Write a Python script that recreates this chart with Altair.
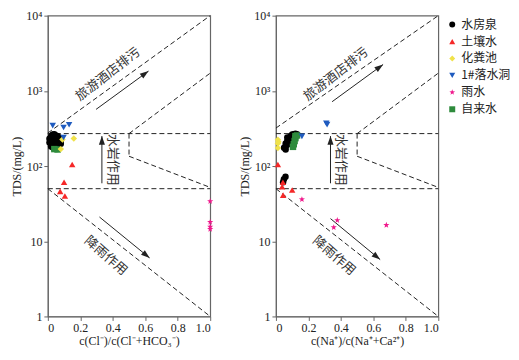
import altair as alt
import pandas as pd

# ---------------- legend / series ----------------
series_names = ["水房泉", "土壤水", "化粪池", "1#落水洞", "雨水", "自来水"]
series_colors = ["#000000", "#f52828", "#f0e24a", "#1f5bbf", "#f0188c", "#2e8b3c"]
STAR = ("M0,-1L0.235,-0.324L0.951,-0.309L0.38,0.124L0.588,0.809L0,0.4"
        "L-0.588,0.809L-0.38,0.124L-0.951,-0.309L-0.235,-0.324Z")
series_shapes = ["circle", "triangle-up", "diamond", "triangle-down", STAR, "square"]
draw_order = ["水房泉", "自来水", "土壤水", "化粪池", "1#落水洞", "雨水"]

# ---------------- left panel: c(Cl-)/c(Cl-+HCO3-) ----------------
L_spring_x = [0.01, 0.02, 0.03, 0.04, 0.05, 0.06, 0.07, 0.08, 0.02, 0.03, 0.04, 0.05,
              0.06, 0.07, 0.03, 0.04, 0.05, 0.06, 0.02, 0.08, 0.01, 0.04]
L_spring_y = [230, 250, 262, 265, 255, 250, 240, 220, 200, 215, 195, 185,
              205, 215, 178, 170, 188, 175, 182, 198, 205, 235]
L_tap_x = [0.04, 0.06]
L_tap_y = [168, 166]
L_soil_x = [0.15, 0.10, 0.076, 0.105]
L_soil_y = [105, 61, 46, 40]
L_septic_x = [0.16, 0.09, 0.08]
L_septic_y = [232, 225, 168]
L_sink_x = [0.03, 0.097, 0.131, 0.097]
L_sink_y = [345, 326, 354, 240]
L_rain_x = [1.0, 1.0, 1.0, 1.0]
L_rain_y = [34, 18, 15.6, 14.5]

# ---------------- right panel: c(Na+)/c(Na++Ca2+) ----------------
R_spring_x = [0.05, 0.06, 0.06, 0.07, 0.07, 0.08, 0.08, 0.09, 0.09, 0.10, 0.10, 0.11,
              0.12, 0.13, 0.06, 0.07, 0.11, 0.049, 0.059, 0.044]
R_spring_y = [175, 182, 200, 192, 215, 210, 235, 225, 250, 245, 262, 265,
              268, 265, 166, 240, 250, 67, 72, 61]
R_tap_x = [0.12, 0.12, 0.115, 0.11, 0.105, 0.13]
R_tap_y = [250, 235, 215, 195, 180, 255]
R_soil_x = [0.012, 0.043, 0.10, 0.044, 0.038]
R_soil_y = [105, 61, 48, 41, 53]
R_septic_x = [0.012, 0.012, 0.012, 0.015]
R_septic_y = [224, 200, 174, 210]
R_sink_x = [0.31, 0.315, 0.16]
R_sink_y = [371, 355, 248]
R_rain_x = [0.16, 0.378, 0.356, 0.68]
R_rain_y = [36, 19, 15.3, 16.4]

# ---------------- guide lines (segments) ----------------
seg_id = [1, 1, 2, 2, 3, 3, 4, 4, 5, 5, 6, 6, 7, 7]
seg_x = [0, 1, 0, 1, 0.5, 1, 0.5, 0.5, 0.5, 1, 0, 1, 0, 1]
L_seg_y = [275, 10000, 270, 270, 270, 1720, 270, 135, 135, 52, 50, 50, 50, 1]
R_seg_y = [320, 10000, 270, 270, 270, 1720, 270, 135, 135, 52, 50, 50, 50, 1]

# ---------------- arrows ----------------
arrow_id = [1, 1, 2, 2, 3, 3]
L_arrow_x = [0.297, 0.62, 0.333, 0.333, 0.318, 0.627]
L_arrow_y = [567, 1830, 59, 250, 21, 6.0]
R_arrow_x = [0.346, 0.66, 0.336, 0.336, 0.336, 0.642]
R_arrow_y = [717, 2240, 59, 250, 20, 5.7]
head_angle = [54, 0, 129]

# ---------------- annotation text ----------------
note_text = ["旅游酒店排污", "水岩作用", "降雨作用"]
note_x = [0.37, 0.40, 0.358]
note_y = [1660, 121, 6.4]
note_angle = [322, 90, 41]

x_titles = ["c(Cl⁻)/c(Cl⁻+HCO₃⁻)", "c(Na⁺)/c(Na⁺+Ca²⁺)"]

SERIF = "Liberation Serif"
CJK = "Noto Sans CJK SC"
ARROW_HEAD = "M0,0L-0.35,1L0.35,1Z"


def points_df(groups):
    rows = []
    for name in draw_order:
        xs, ys = groups[name]
        for a, b in zip(xs, ys):
            rows.append({"series": name, "x": a, "y": b})
    return pd.DataFrame(rows)


def panel(pts, seg_y, ax, ay, xtitle):
    xenc = alt.X("x:Q", scale=alt.Scale(domain=[0, 1], nice=False),
                 axis=alt.Axis(values=[0, 0.2, 0.4, 0.6, 0.8, 1.0],
                               labelExpr="datum.value == 0 ? '0' : format(datum.value, '.1f')",
                               title=xtitle))
    yenc = alt.Y("y:Q", scale=alt.Scale(type="log", domain=[1, 10000], nice=False),
                 axis=alt.Axis(values=[1, 10, 100, 1000, 10000],
                               labelExpr="datum.value == 1 ? '1' : datum.value == 10 ? '10' : datum.value == 100 ? '10²' : datum.value == 1000 ? '10³' : '10⁴'",
                               title="TDS/(mg/L)"))
    segs = pd.DataFrame({"seg": seg_id, "x": seg_x, "y": seg_y})
    lines = alt.Chart(segs).mark_line(color="#222", strokeWidth=1, strokeDash=[5, 3]).encode(
        x=xenc, y=yenc, detail="seg:N")
    arr = pd.DataFrame({"a": arrow_id, "x": ax, "y": ay})
    shafts = alt.Chart(arr).mark_line(color="#222", strokeWidth=1).encode(
        x=xenc, y=yenc, detail="a:N")
    heads_df = pd.DataFrame({"x": ax[1::2], "y": ay[1::2], "ang": head_angle})
    heads = alt.Chart(heads_df).mark_point(
        shape=ARROW_HEAD, filled=True, color="#222", size=300, opacity=1
    ).encode(x=xenc, y=yenc, angle=alt.Angle("ang:Q", scale=None))
    notes_df = pd.DataFrame({"t": note_text, "x": note_x, "y": note_y, "ang": note_angle})
    notes = alt.Chart(notes_df).mark_text(font=CJK, fontSize=13, color="#333",
                                          align="center", baseline="middle").encode(
        x=xenc, y=yenc, text="t:N", angle=alt.Angle("ang:Q", scale=None))
    pts_layer = alt.Chart(pts).mark_point(filled=True, size=42, opacity=1).encode(
        x=xenc, y=yenc,
        color=alt.Color("series:N", scale=alt.Scale(domain=series_names, range=series_colors),
                        legend=alt.Legend(title=" ")),
        shape=alt.Shape("series:N", scale=alt.Scale(domain=series_names, range=series_shapes),
                        legend=alt.Legend(title=" ")),
    )
    return alt.layer(lines, shafts, heads, notes, pts_layer).properties(width=163, height=302)


left_pts = points_df({"水房泉": (L_spring_x, L_spring_y), "自来水": (L_tap_x, L_tap_y),
                      "土壤水": (L_soil_x, L_soil_y), "化粪池": (L_septic_x, L_septic_y),
                      "1#落水洞": (L_sink_x, L_sink_y), "雨水": (L_rain_x, L_rain_y)})
right_pts = points_df({"水房泉": (R_spring_x, R_spring_y), "自来水": (R_tap_x, R_tap_y),
                       "土壤水": (R_soil_x, R_soil_y), "化粪池": (R_septic_x, R_septic_y),
                       "1#落水洞": (R_sink_x, R_sink_y), "雨水": (R_rain_x, R_rain_y)})

chart = alt.hconcat(
    panel(left_pts, L_seg_y, L_arrow_x, L_arrow_y, x_titles[0]),
    panel(right_pts, R_seg_y, R_arrow_x, R_arrow_y, x_titles[1]),
    spacing=24,
).properties(
    padding={"left": 2, "top": 0, "right": 0, "bottom": 0}
).configure_view(
    stroke="#666", strokeWidth=1.2
).configure_axis(
    labelFont=SERIF, titleFont=SERIF, labelFontSize=12, titleFontSize=12,
    titleFontWeight="normal", labelColor="#222", titleColor="#222",
    domainColor="#666", tickColor="#666", tickSize=4, grid=False, titlePadding=2
).configure_legend(
    orient="right", offset=5, padding=0, labelFont=CJK, labelFontSize=12, labelColor="#222",
    symbolSize=36, rowPadding=5, symbolStrokeWidth=0, labelOffset=3,
    titleFontSize=2, titlePadding=1
)

chart.save("out.html", embed_options={"renderer": "svg", "actions": False})
